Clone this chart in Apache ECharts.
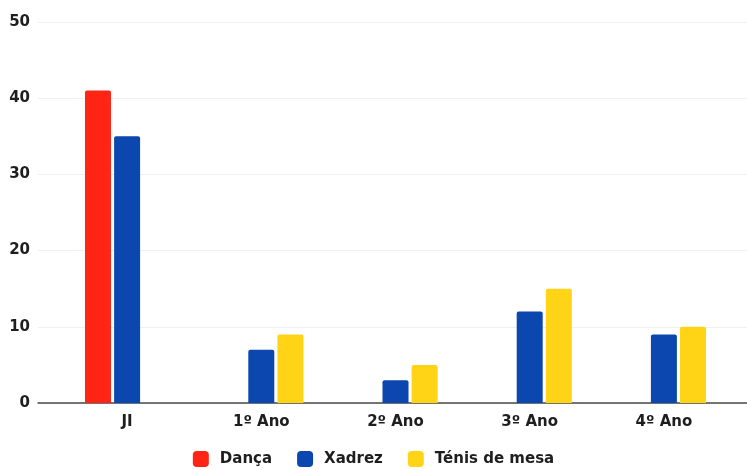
<!DOCTYPE html>
<html>
<head>
<meta charset="utf-8">
<script src="https://cdn.jsdelivr.net/npm/echarts@6/dist/echarts.min.js"></script>
<style>html,body{margin:0;padding:0;background:#fff}#c{width:747px;height:470px}</style>
</head>
<body>
<div id="c"></div>
<script>
const categories = ['JI', '1º Ano', '2º Ano', '3º Ano', '4º Ano'];
const danca = [41, null, null, null, null];
const xadrez = [35, 7, 3, 12, 9];
const tenis = [null, 9, 5, 15, 10];
const seriesNames = ['Dança', 'Xadrez', 'Ténis de mesa'];
const yTicks = { min: 0, max: 50, interval: 10 };

const colors = ['#FF2414', '#0B47AF', '#FFD416'];
const font = '"DejaVu Sans", sans-serif';
const chart = echarts.init(document.getElementById('c'), null, { renderer: 'canvas' });
chart.setOption({
  animation: false,
  color: colors,
  grid: [
    { left: 60, right: 16, top: 22, bottom: 67 },
    { left: 38, right: 0, top: 22, bottom: 67 }
  ],
  xAxis: [
    { type: 'category', gridIndex: 0, data: categories,
      axisLine: { show: false }, axisTick: { show: false },
      axisLabel: { color: '#1e1e1e', fontWeight: 'bold', fontSize: 15, fontFamily: font, margin: 12 } },
    { type: 'value', gridIndex: 1, min: 0, max: 1, show: true,
      axisLine: { show: true, onZero: false, lineStyle: { color: '#4a4a4a', width: 1.5 } },
      axisTick: { show: false }, axisLabel: { show: false }, splitLine: { show: false } }
  ],
  yAxis: [
    { type: 'value', gridIndex: 0, min: yTicks.min, max: yTicks.max, interval: yTicks.interval, show: false, splitLine: { show: false } },
    { type: 'value', gridIndex: 1, min: yTicks.min, max: yTicks.max, interval: yTicks.interval,
      axisLine: { show: false }, axisTick: { show: false },
      axisLabel: { color: '#1e1e1e', fontWeight: 'bold', fontSize: 15, fontFamily: font, margin: 8 },
      splitLine: { lineStyle: { color: '#efefef', width: 1 } } }
  ],
  legend: {
    top: 446, left: 'center',
    itemWidth: 16, itemHeight: 16, itemGap: 25,
    icon: 'roundRect',
    textStyle: { color: '#1e1e1e', fontWeight: 'bold', fontSize: 15, fontFamily: font, padding: [0, 0, 0, 6] },
    data: seriesNames
  },
  series: [
    { name: seriesNames[0], type: 'bar', data: danca, barWidth: 26, barGap: '12%', itemStyle: { borderRadius: [2, 2, 0, 0] } },
    { name: seriesNames[1], type: 'bar', data: xadrez, barWidth: 26, barGap: '12%', itemStyle: { borderRadius: [2, 2, 0, 0] } },
    { name: seriesNames[2], type: 'bar', data: tenis, barWidth: 26, barGap: '12%', itemStyle: { borderRadius: [2, 2, 0, 0] } }
  ]
});
</script>
</body>
</html>
